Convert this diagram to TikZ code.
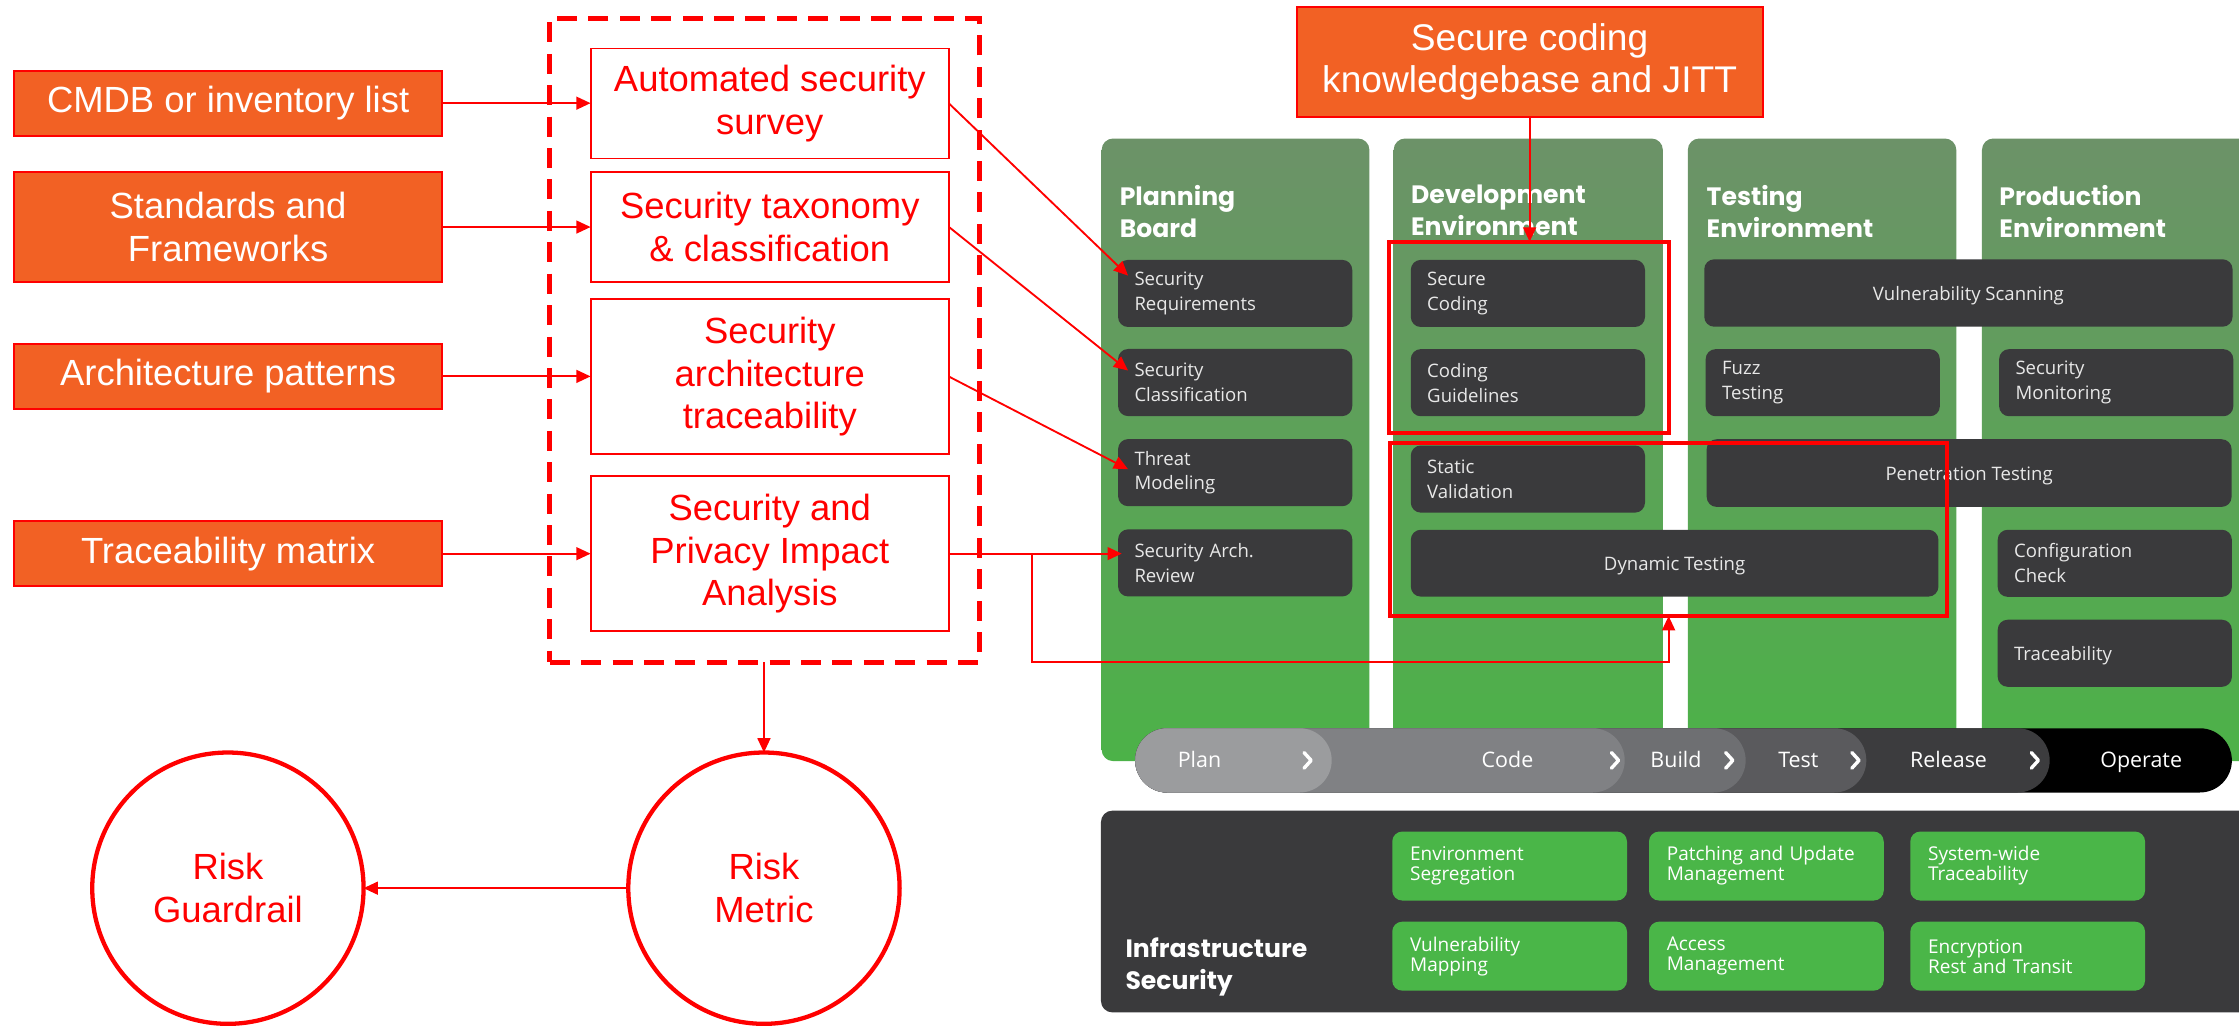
\documentclass[tikz,border=0pt]{standalone}
\usepackage{fontspec}
\setmainfont{Liberation Sans}
\newfontfamily\headfont{Poppins}
\newfontfamily\boxfont{Open Sans}
\usetikzlibrary{arrows.meta,calc}

\definecolor{brand}{RGB}{255,0,0}
\definecolor{orangefill}{RGB}{242,97,36}
\definecolor{darkbox}{RGB}{58,58,60}
\definecolor{laneTop}{RGB}{108,146,104}
\definecolor{laneBot}{RGB}{76,178,72}
\definecolor{infraGreen}{RGB}{74,182,72}
\definecolor{segPlan}{RGB}{155,156,158}
\definecolor{segCode}{RGB}{128,129,132}
\definecolor{segBuild}{RGB}{110,111,114}
\definecolor{segTest}{RGB}{90,90,93}
\definecolor{segRelease}{RGB}{60,60,62}
\definecolor{tiletext}{RGB}{232,232,232}

\tikzset{
  sz/.style 2 args={minimum width=#1pt, minimum height=#2pt},
  arial/.style={font=\fontsize{25.5}{30}\selectfont},
  source/.style={arial, draw=brand, line width=1.3pt, fill=orangefill, text=white,
    inner sep=0pt, outer sep=0pt, align=center},
  stagebox/.style={arial, draw=brand, line width=1.3pt, fill=white, text=brand,
    inner sep=0pt, outer sep=0pt, align=center},
  groupbox/.style={draw=brand, line width=3.5pt, dash pattern=on 14pt off 8pt,
    inner sep=0pt, outer sep=0pt},
  risk/.style={arial, circle, draw=brand, line width=3pt, minimum size=190pt,
    text=brand, align=center, inner sep=0pt, outer sep=0pt},
  arr/.style={draw=brand, line width=1.3pt, -{Triangle[length=10pt,width=9pt]}},
  hilite/.style={draw=brand, line width=3pt, inner sep=0pt, outer sep=0pt},
  tile/.style={fill=darkbox, rounded corners=7pt, inner sep=0pt, outer sep=0pt,
    text=tiletext, font=\boxfont\fontsize{13}{17.4}\selectfont},
  ltile/.style={tile, align=left, text width=141pt, inner xsep=11.5pt, minimum height=47pt},
  ctile/.style={tile, align=center, text height=10pt, text depth=0pt},
  oneline/.style={text height=10pt, text depth=0pt},
  gtile/.style={fill=infraGreen, rounded corners=7pt, inner ysep=0pt, outer sep=0pt,
    text=white, font=\boxfont\fontsize{13.3}{14}\selectfont, align=left,
    text width=139.4pt, inner xsep=12.5pt, minimum height=48.3pt},
  heading/.style={anchor=north west, inner sep=0pt, text=white, align=left,
    font=\headfont\bfseries\fontsize{17.6}{22.2}\selectfont},
  stagelbl/.style={inner sep=0pt, text=white, text height=9.6pt, text depth=0pt,
    font=\boxfont\fontsize{15}{18}\selectfont},
}

\begin{document}
\begin{tikzpicture}[x=1pt,y=-1pt]
\useasboundingbox[fill=white] (0,0) rectangle (1568,719);

% ---------- environment lanes and infrastructure panel ----------
\begin{scope}
  \clip (0,0) rectangle (1568,719);
  \foreach \l/\r in {771.5/959, 976/1164.5, 1182/1370, 1388/1600}
    \shade[top color=laneTop, bottom color=laneBot, rounded corners=8pt]
      (\l,97) rectangle (\r,533);
  \fill[darkbox, rounded corners=8pt] (771,567.7) rectangle (1600,709);
\end{scope}

% ---------- lane headings ----------
\node[heading] (hplan) at (784,129.5) {Planning\\Board};
\node[heading] (hdev)  at (988,129.5) {Development\\Environment};
\node[heading] (htest) at (1195,129.5) {Testing\\Environment};
\node[heading] (hprod) at (1400,129.5) {Production\\Environment};

% ---------- planning board ----------
\node[ltile] (secreq)   at (865,205.5) {Security\\Requirements};
\node[ltile] (secclass) at (865,267.9) {Security\\Classification};
\node[ltile] (threat)   at (865,331)   {Threat\\Modeling};
\node[ltile] (review)   at (865,394.2) {Security Arch.\\Review};

% ---------- development environment ----------
\node[ltile] (secure) at (1070,205.5) {Secure\\Coding};
\node[ltile] (guide)  at (1070,268)   {Coding\\Guidelines};
\node[ltile] (static) at (1070,335.5) {Static\\Validation};
\node[ctile, sz={369.5}{46.8}] (dynamic) at (1172.75,394.4) {Dynamic Testing};

% ---------- testing / production ----------
\node[ctile, sz={370}{47.2}]   (vulnscan) at (1378.5,205.2) {Vulnerability Scanning};
\node[ltile] (fuzz)   at (1276.5,268) {Fuzz\\Testing};
\node[ltile] (secmon) at (1482,268)   {Security\\Monitoring};
\node[ctile, sz={367.6}{47.4}] (pentest)  at (1379,331.3) {Penetration Testing};
\node[ltile] (config) at (1481,394.5) {Configuration\\Check};
\node[ltile, oneline] (trace)  at (1481,457.5) {Traceability};

% ---------- delivery pipeline ----------
\fill[black, rounded corners=22.5pt]      (795,510) rectangle (1563,555);
\fill[segRelease, rounded corners=22.5pt] (795,510) rectangle (1435.4,555);
\fill[segTest, rounded corners=22.5pt]    (795,510) rectangle (1307,555);
\fill[segBuild, rounded corners=22.5pt]   (795,510) rectangle (1222.5,555);
\fill[segCode, rounded corners=22.5pt]    (795,510) rectangle (1137.8,555);
\fill[segPlan, rounded corners=22.5pt]    (795,510) rectangle (932.6,555);
\foreach \cx in {915.7,1131,1211,1299.4,1425}
  \draw[white, line width=2.4pt, line cap=round, line join=round]
    (\cx-2.5,527) -- (\cx+2.5,532.5) -- (\cx-2.5,538);
\node[stagelbl] (lplan)    at (840,532.5)    {Plan};
\node[stagelbl] (lcode)    at (1055.7,532.5) {Code};
\node[stagelbl] (lbuild)   at (1173.7,532.5) {Build};
\node[stagelbl] (ltest)    at (1259.4,532.5) {Test};
\node[stagelbl] (lrelease) at (1364.6,532.5) {Release};
\node[stagelbl] (loperate) at (1499.5,532.5) {Operate};

% ---------- infrastructure security ----------
\node[heading] (hinfra) at (788,656.5) {Infrastructure\\Security};
\node[gtile] (envseg) at (1057.2,606.5) {Environment\\Segregation};
\node[gtile] (patch)  at (1237,606.5)   {Patching and Update\\Management};
\node[gtile] (swtr)   at (1420,606.5)   {System-wide\\Traceability};
\node[gtile] (vmap)   at (1057.2,669.6) {Vulnerability\\Mapping};
\node[gtile] (access) at (1237,669.6)   {Access\\Management};
\node[gtile] (encr)   at (1420,669.6)   {Encryption\\Rest and Transit};

% ---------- highlighted areas ----------
\node[hilite, sz={196.1}{134.1}] (boxA) at (1070.95,236.35) {};
\node[hilite, sz={390.1}{121.4}] (boxB) at (1168.55,370.7) {};

% ---------- inputs and assessment stages ----------
\node[source, sz={299.5}{45.5}] (cmdb) at (159.75,72.25)  {CMDB or inventory list};
\node[source, sz={299.5}{76.8}] (std)  at (159.75,159)    {Standards and\\Frameworks};
\node[source, sz={299.5}{45.7}] (arch) at (159.75,263.6)  {Architecture patterns};
\node[source, sz={299.5}{45.5}] (trm)  at (159.75,387.75) {Traceability matrix};

\node[groupbox, sz={301}{451}] (grp) at (535.5,238.2) {};
\node[stagebox, sz={251}{77}]    (survey) at (539.1,72.5)   {Automated security\\survey};
\node[stagebox, sz={251}{76.8}]  (taxo)   at (539.1,159)    {Security taxonomy\\\& classification};
\node[stagebox, sz={251}{108.5}] (satr)   at (539.1,263.75) {Security\\architecture\\traceability};
\node[stagebox, sz={251}{108.6}] (spia)   at (539.1,387.7)  {Security and\\Privacy Impact\\Analysis};

\node[risk] (metric) at (535,622)   {Risk\\Metric};
\node[risk] (guard)  at (159.6,622) {Risk\\Guardrail};

\node[source, sz={326.4}{77.5}, font=\fontsize{26}{29.5}\selectfont] (kb)
  at (1071.2,43.45) {Secure coding\\knowledgebase and JITT};

% ---------- connectors ----------
\draw[arr] (cmdb.east) -- (cmdb.east -| survey.west);
\draw[arr] (std.east)  -- (std.east -| taxo.west);
\draw[arr] (arch.east) -- (arch.east -| satr.west);
\draw[arr] (trm.east)  -- (trm.east -| spia.west);

\draw[arr] (survey.east) -- ($(secreq.west)+(7,-12.5)$);
\draw[arr] (taxo.east)   -- ($(secclass.west)+(7,-8.4)$);
\draw[arr] (satr.east)   -- ($(threat.west)+(7,-2.4)$);
\draw[arr] (spia.east)   -- ($(spia.east -| review.west)+(2.6,0)$);
\coordinate (br) at ($(spia.east)+(58.4,0)$);
\draw[arr] (br) -- ++(0,76) -| (boxB.south);

\draw[arr] (kb.south) -- (kb.south |- boxA.north);

\draw[arr] (grp.south -| metric.north) -- (metric.north);
\draw[arr] (metric.west) -- (guard.east);
\end{tikzpicture}
\end{document}
